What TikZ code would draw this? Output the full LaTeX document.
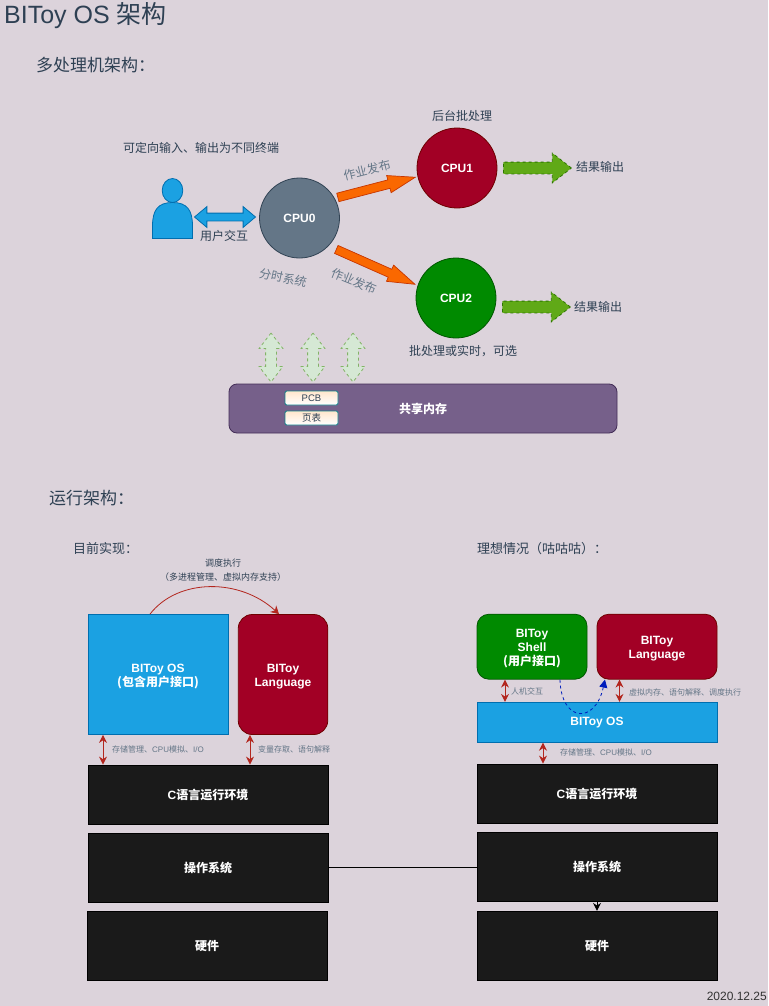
\documentclass[tikz,border=0pt]{standalone}
\usepackage{fontspec}
\setmainfont{Liberation Sans}
\newfontfamily\cjk{Noto Sans CJK SC}
\usetikzlibrary{arrows.meta,shapes.arrows}
\newcommand{\zh}[1]{{\cjk #1}}
\newcommand{\pxfont}[1]{\fontsize{#1}{14}\selectfont}
\newcommand{\topgap}{\rule{0pt}{13pt}}
\newcommand{\fwcolon}{\char"FF1A }
\newcommand{\fwcomma}{\char"FF0C }
\newcommand{\fwopen}{\char"FF08 }
\newcommand{\fwclose}{\char"FF09 }
\definecolor{pagebg}{HTML}{DCD3DB}
\definecolor{inktext}{HTML}{2E4053}
\definecolor{graytext}{HTML}{647687}
\definecolor{osblue}{HTML}{1BA1E2}
\definecolor{osblueline}{HTML}{006EAF}
\definecolor{langred}{HTML}{A20025}
\definecolor{langredline}{HTML}{6F0000}
\definecolor{shellgreen}{HTML}{008A00}
\definecolor{shellgreenline}{HTML}{005700}
\definecolor{slatefill}{HTML}{647687}
\definecolor{slateline}{HTML}{314354}
\definecolor{pubfill}{HTML}{FA6800}
\definecolor{publine}{HTML}{C73500}
\definecolor{outfill}{HTML}{60A917}
\definecolor{outline}{HTML}{2D7600}
\definecolor{memfill}{HTML}{D5E8D4}
\definecolor{memline}{HTML}{82B366}
\definecolor{purplefill}{HTML}{76608A}
\definecolor{purpleline}{HTML}{432D57}
\definecolor{tealline}{HTML}{0E8088}
\definecolor{linkred}{HTML}{B3261E}
\definecolor{linkblue}{HTML}{001DBC}
\definecolor{peach}{HTML}{FFE6CC}
\definecolor{darkbox}{HTML}{1A1A1A}
\tikzset{
  txt/.style={inner sep=0,text=inktext,align=center,font=\pxfont{12}},
  note/.style={inner sep=0,text=graytext,font=\pxfont{8}},
  cpu/.style={circle,draw,line width=.8pt,minimum size=80pt,inner sep=0,text=white,font=\bfseries\pxfont{12}},
  block/.style={rectangle,draw,line width=.8pt,inner sep=0,text=white,align=center,font=\bfseries\pxfont{12}},
  osbox/.style={block,fill=osblue,draw=osblueline},
  langbox/.style={block,fill=langred,draw=langredline,rounded corners=14pt},
  shellbox/.style={block,fill=shellgreen,draw=shellgreenline,rounded corners=12pt},
  darkblock/.style={block,fill=darkbox,draw=black},
  pubarrow/.style={single arrow,draw=publine,fill=pubfill,line width=.7pt,inner sep=4pt,anchor=tail,
    minimum width=17pt,single arrow head extend=4.5pt,single arrow tip angle=36,
    single arrow head indent=0pt},
  outarrow/.style={single arrow,draw=outline,fill=outfill,dashed,line width=.8pt,inner sep=5.5pt,anchor=tail,
    minimum height=68pt,minimum width=29pt,single arrow head extend=9pt,single arrow tip angle=76,
    single arrow head indent=0pt},
  memarrow/.style={double arrow,draw=memline,fill=memfill,dashed,line width=.8pt,inner sep=5pt,
    minimum height=49pt,minimum width=23pt,double arrow head extend=6.5pt,double arrow tip angle=75,
    double arrow head indent=0pt,rotate=90},
  redlink/.style={draw=linkred,line width=1pt,{Stealth[length=8pt,width=8pt]}-{Stealth[length=8pt,width=8pt]}},
  tabletag/.style={rectangle,draw=tealline,line width=.8pt,top color=peach,bottom color=white,rounded corners=1.5pt,
    minimum width=53pt,minimum height=14pt,inner sep=0,text=inktext,font=\pxfont{9.5}},
}
\begin{document}
\begin{tikzpicture}[x=1pt,y=-1pt]
  \useasboundingbox (0,0) rectangle (768,1006);
  \fill[pagebg] (0,0) rectangle (768,1006);

  % headings
  \node[txt,anchor=west,font=\pxfont{25}] (title) at (4,16) {BIToy OS \zh{架构}};
  \node[txt,anchor=west,font=\pxfont{17}] (headmulti) at (36,65) {\zh{多处理机架构\fwcolon}};
  \node[txt,anchor=west,font=\pxfont{17}] (headrun) at (49,498) {\zh{运行架构\fwcolon}};
  \node[txt,anchor=west,font=\pxfont{13}] (headnow) at (73,549) {\zh{目前实现\fwcolon}};
  \node[txt,anchor=west,font=\pxfont{13}] (headideal) at (477,549) {\zh{理想情况\fwopen 咕咕咕\fwclose\fwcolon}};

  % user
  \filldraw[fill=osblue,draw=osblueline,line width=.8pt] (152.5,238.5) -- (152.5,226)
    .. controls (152.5,210) and (158,202.5) .. (172.5,202.5)
    .. controls (187,202.5) and (192.5,210) .. (192.5,226) -- (192.5,238.5) -- cycle;
  \filldraw[fill=osblue,draw=osblueline,line width=.8pt] (172.5,190.5) ellipse (10.3 and 12);
  \node[double arrow,draw=osblueline,fill=osblue,line width=.8pt,inner sep=3.5pt,minimum height=61pt,
    minimum width=20pt,double arrow head extend=6.5pt,double arrow tip angle=80,double arrow head indent=0pt]
    (userlink) at (225,217) {};
  \node[txt] (inoutlabel) at (201,148) {\zh{可定向输入、输出为不同终端}};
  \node[txt] (userlabel) at (224,236) {\zh{用户交互}};

  % cpus
  \node[cpu,fill=slatefill,draw=slateline] (cpuzero) at (299.5,218) {CPU0};
  \node[cpu,fill=langred,draw=langredline] (cpuone) at (457,168) {CPU1};
  \node[cpu,fill=shellgreen,draw=shellgreenline] (cputwo) at (456,298) {CPU2};
  \node[txt,text=graytext,rotate=-12] (timeshare) at (283,278) {\zh{分时系统}};
  \node[txt] (batchlabel) at (462,116) {\zh{后台批处理}};
  \node[txt] (optlabel) at (463,351) {\zh{批处理或实时\fwcomma 可选}};

  \node[pubarrow,rotate=14.6,minimum height=80pt] (pubone) at (337.5,197.5) {};
  \node[pubarrow,rotate=-23.9,minimum height=86pt] (pubtwo) at (336,249.3) {};
  \node[txt,text=graytext,rotate=14] (pubonelabel) at (367,170) {\zh{作业发布}};
  \node[txt,text=graytext,rotate=-22] (pubtwolabel) at (354,281) {\zh{作业发布}};

  \node[outarrow] (outone) at (503,168) {};
  \node[outarrow] (outtwo) at (502,307) {};
  \node[txt,anchor=west] (outonelabel) at (576,167) {\zh{结果输出}};
  \node[txt,anchor=west] (outtwolabel) at (574,307) {\zh{结果输出}};

  % shared memory
  \node[memarrow] (memA) at (271,357.5) {};
  \node[memarrow] (memB) at (313,357.5) {};
  \node[memarrow] (memC) at (353,357.5) {};
  \node[block,fill=purplefill,draw=purpleline,rounded corners=8pt,minimum width=388pt,minimum height=49pt]
    (shared) at (423,408.5) {\zh{共享内存}};
  \node[tabletag] (pcb) at (311.5,398) {PCB};
  \node[tabletag] (pagetable) at (311.5,418) {\zh{页表}};

  % current layout
  \node[osbox,minimum width=140pt,minimum height=120pt] (osnow) at (158,674.5) {\topgap BIToy OS\\\zh{(包含用户接口)}};
  \node[langbox,minimum width=89.5pt,minimum height=120pt] (langnow) at (283,674.5) {\topgap BIToy\\Language};
  \node[darkblock,minimum width=240pt,minimum height=59pt] (cnow) at (208,794.5) {C\zh{语言运行环境}};
  \node[darkblock,minimum width=240pt,minimum height=69pt] (sysnow) at (208,867.5) {\zh{操作系统}};
  \node[darkblock,minimum width=240pt,minimum height=69pt] (hwnow) at (207,945.8) {\zh{硬件}};

  \node[txt,font=\pxfont{9}] (schedlabel) at (223,563) {\zh{调度执行}};
  \node[txt,font=\pxfont{9}] (schednote) at (223,577) {\zh{\fwopen 多进程管理、虚拟内存支持\fwclose}};
  \coordinate (schedfrom) at (150,614);
  \coordinate (schedto) at (279,614);
  \draw[draw=linkred,line width=.8pt,-{Stealth[length=8pt,width=9pt]}] (osnow.north -| schedfrom)
    .. controls (178,578) and (240,578) .. (langnow.north -| schedto);

  \coordinate (leftA) at (103,750);
  \coordinate (leftB) at (250,750);
  \draw[redlink] (osnow.south -| leftA) -- (cnow.north -| leftA);
  \draw[redlink] (langnow.south -| leftB) -- (cnow.north -| leftB);
  \node[note,anchor=west] (noteA) at (112,749) {\zh{存储管理、}CPU\zh{模拟、}I/O};
  \node[note,anchor=west] (noteB) at (258,749) {\zh{变量存取、语句解释}};

  % ideal layout
  \node[shellbox,minimum width=110pt,minimum height=65pt] (shell) at (532,646.7) {\topgap BIToy\\Shell\\\zh{(用户接口)}};
  \node[langbox,rounded corners=12pt,minimum width=120pt,minimum height=65pt] (langideal) at (657,646.7) {\topgap BIToy\\Language};
  \node[osbox,minimum width=240pt,minimum height=40pt] (osideal) at (597,722.3) {BIToy OS};
  \node[darkblock,minimum width=240pt,minimum height=59pt] (cideal) at (597,793.5) {C\zh{语言运行环境}};
  \node[darkblock,minimum width=240pt,minimum height=69pt] (sysideal) at (597,866.5) {\zh{操作系统}};
  \node[darkblock,minimum width=240pt,minimum height=69pt] (hwideal) at (597,945.8) {\zh{硬件}};

  \coordinate (rightA) at (505,690);
  \coordinate (rightB) at (619.5,690);
  \coordinate (rightC) at (543,753);
  \draw[redlink] (shell.south -| rightA) -- (osideal.north -| rightA);
  \draw[redlink] (langideal.south -| rightB) -- (osideal.north -| rightB);
  \draw[redlink] (osideal.south -| rightC) -- (cideal.north -| rightC);
  \node[note,anchor=west] (noteC) at (511,691) {\zh{人机交互}};
  \node[note,anchor=west] (noteD) at (629,692) {\zh{虚拟内存、语句解释、调度执行}};
  \node[note,anchor=west] (noteE) at (560,752) {\zh{存储管理、}CPU\zh{模拟、}I/O};

  \coordinate (callfrom) at (560,680);
  \coordinate (callto) at (605,680);
  \draw[draw=linkblue,line width=.8pt,dashed,-{Triangle[length=8pt,width=8pt]}] (shell.south -| callfrom)
    .. controls (561,722) and (595,725) .. (langideal.south -| callto);

  % links between stacks
  \draw[black,line width=1pt] (sysnow.east) -- (sysnow.east -| sysideal.west);
  \draw[black,line width=1pt,-{Stealth[length=8pt,width=8pt]}] (sysideal.south) -- (hwideal.north);

  \node[txt,anchor=east,text=black!80] (stamp) at (767,996) {2020.12.25};
\end{tikzpicture}
\end{document}
